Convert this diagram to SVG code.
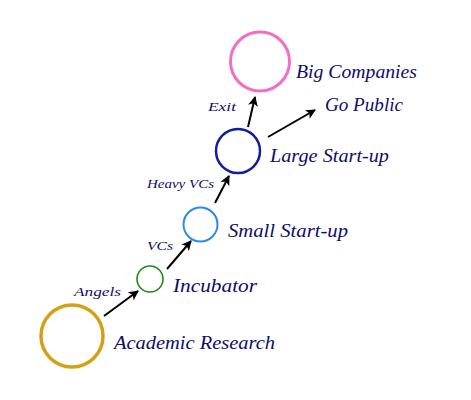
<svg xmlns="http://www.w3.org/2000/svg" width="471" height="400" viewBox="0 0 471 400">
<defs>
<marker id="ah" viewBox="0 0 10 10" refX="9" refY="5" markerWidth="10" markerHeight="10" markerUnits="userSpaceOnUse" orient="auto">
<path d="M0,0 L10,5 L0,10 L2.5,5 Z" fill="#000"/>
</marker>
</defs>
<style>
.lbl{font-family:"Liberation Serif","DejaVu Serif",serif;font-style:italic;fill:#0e0e68;font-size:18px}
.sm{font-size:13px}
.c{fill:none}
.edge{stroke:#000;stroke-width:2;fill:none;marker-end:url(#ah)}
</style>
<rect width="471" height="400" fill="#fff"/>
<g id="connectors">
<line class="edge" x1="104" y1="316" x2="138" y2="291"/>
<line class="edge" x1="167" y1="269" x2="191" y2="241"/>
<line class="edge" x1="215" y1="203" x2="229" y2="176"/>
<line class="edge" x1="248" y1="127" x2="255" y2="97"/>
<line class="edge" x1="268" y1="137" x2="315" y2="110"/>
</g>
<g id="academic">
<circle class="c" cx="72" cy="336" r="31" stroke="#d4a017" stroke-width="3.5"/>
<text class="lbl" x="114" y="349" textLength="161" lengthAdjust="spacingAndGlyphs">Academic Research</text>
</g>
<g id="incubator">
<circle class="c" cx="150" cy="279" r="13" stroke="#1e8a1e" stroke-width="1.6"/>
<text class="lbl" x="173" y="292" textLength="84" lengthAdjust="spacingAndGlyphs">Incubator</text>
</g>
<g id="small">
<circle class="c" cx="200.5" cy="224.5" r="17" stroke="#2a8ae8" stroke-width="2"/>
<text class="lbl" x="228" y="237" textLength="120" lengthAdjust="spacingAndGlyphs">Small Start-up</text>
</g>
<g id="large">
<circle class="c" cx="238" cy="151" r="22" stroke="#10209c" stroke-width="2.5"/>
<text class="lbl" x="270" y="162" textLength="119" lengthAdjust="spacingAndGlyphs">Large Start-up</text>
</g>
<g id="big">
<circle class="c" cx="260" cy="61.5" r="29.5" stroke="#f06ec8" stroke-width="3"/>
<text class="lbl" x="296" y="78" textLength="121" lengthAdjust="spacingAndGlyphs">Big Companies</text>
</g>
<g id="gopublic">
<text class="lbl" x="325" y="111" textLength="78" lengthAdjust="spacingAndGlyphs">Go Public</text>
</g>
<g id="edge-labels">
<text class="lbl sm" x="74" y="296" textLength="47" lengthAdjust="spacingAndGlyphs">Angels</text>
<text class="lbl sm" x="147" y="250" textLength="26" lengthAdjust="spacingAndGlyphs">VCs</text>
<text class="lbl sm" x="147" y="188" textLength="67" lengthAdjust="spacingAndGlyphs">Heavy VCs</text>
<text class="lbl sm" x="208" y="111" textLength="28" lengthAdjust="spacingAndGlyphs">Exit</text>
</g>
</svg>
